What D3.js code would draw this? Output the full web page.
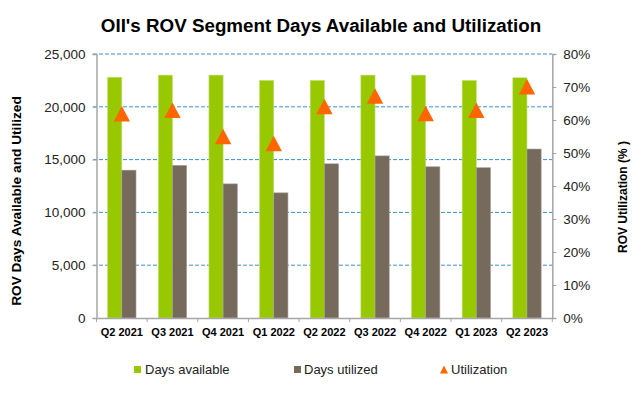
<!DOCTYPE html>
<html><head><meta charset="utf-8">
<script src="https://cdn.jsdelivr.net/npm/d3@7/dist/d3.min.js"></script>
<style>body{margin:0;background:#fff;}svg{display:block;font-family:"Liberation Sans",Arial,sans-serif;}</style>
</head><body><svg id="c" width="640" height="399"></svg>
<script>
const categories = ["Q2 2021","Q3 2021","Q4 2021","Q1 2022","Q2 2022","Q3 2022","Q4 2022","Q1 2023","Q2 2023"];
const daysAvailable = [22800, 23000, 23000, 22500, 22500, 23000, 23000, 22500, 22750];
const daysUtilized = [14000, 14450, 12700, 11850, 14600, 15350, 14320, 14230, 16000];
const utilization = [0.618, 0.629, 0.549, 0.528, 0.640, 0.672, 0.619, 0.629, 0.700];
const leftTicks = [0, 5000, 10000, 15000, 20000, 25000];
const rightTicks = [0, 0.1, 0.2, 0.3, 0.4, 0.5, 0.6, 0.7, 0.8];
const seriesNames = ["Days available", "Days utilized", "Utilization"];

const svg = d3.select("#c");
const L = 96.5, R = 552.3, T = 54, B = 318;
const x = d3.scaleBand().domain(categories).range([L, R]).paddingInner(0.44).paddingOuter(0.22);
const x1 = d3.scaleBand().domain([0,1]).range([0, x.bandwidth()]);
const yL = d3.scaleLinear().domain([0, 25000]).range([B, T]);
const yR = d3.scaleLinear().domain([0, 0.8]).range([B, T]);
const colors = ["#97c800", "#756a5b", "#ff6600"];

// title
svg.append("text").attr("x", 321).attr("y", 32).attr("text-anchor", "middle")
  .attr("font-size", "18.8px").attr("font-weight", "bold").attr("fill", "#000")
  .text("OII's ROV Segment Days Available and Utilization");

// gridlines
svg.append("g").selectAll("line").data(leftTicks.filter(d => d > 0)).join("line")
  .attr("x1", 93).attr("x2", R).attr("y1", d => yL(d)).attr("y2", d => yL(d))
  .attr("stroke", "#3d8fd6").attr("stroke-width", 1).attr("stroke-dasharray", "4,2");

// bars
const g = svg.append("g");
categories.forEach((c, i) => {
  g.append("rect").attr("x", x(c) + x1(0)).attr("width", x1.bandwidth())
    .attr("y", yL(daysAvailable[i])).attr("height", B - yL(daysAvailable[i]))
    .attr("fill", colors[0]).attr("stroke", "#c4e07a").attr("stroke-width", 0.6);
  g.append("rect").attr("x", x(c) + x1(1)).attr("width", x1.bandwidth())
    .attr("y", yL(daysUtilized[i])).attr("height", B - yL(daysUtilized[i]))
    .attr("fill", colors[1]).attr("stroke", "#a79e93").attr("stroke-width", 0.6);
});

// triangles
svg.append("g").selectAll("path").data(utilization).join("path")
  .attr("transform", (d, i) => `translate(${x(categories[i]) + x.bandwidth()/2},${yR(d)})`)
  .attr("d", "M0,-8L8.2,7.5L-8.2,7.5Z").attr("fill", colors[2]);

// axes
const axisCol = "#a6a6a6";
const leftAxis = svg.append("g").attr("transform", `translate(${L},0)`)
  .call(d3.axisLeft(yL).tickValues(leftTicks).tickSize(4).tickPadding(7).tickFormat(d3.format(",")));
const rightAxis = svg.append("g").attr("transform", `translate(${R},0)`)
  .call(d3.axisRight(yR).tickValues(rightTicks).tickSize(4).tickPadding(7).tickFormat(d3.format(".0%")));
const bottomAxis = svg.append("g").attr("transform", `translate(0,${B})`)
  .call(d3.axisBottom(x).tickSize(0).tickPadding(10));
[leftAxis, rightAxis, bottomAxis].forEach(a => {
  a.select(".domain").attr("stroke", axisCol).attr("stroke-width", 1.5);
  a.selectAll(".tick line").attr("stroke", axisCol);
});
leftAxis.selectAll("text").attr("font-size", "13.5px").attr("fill", "#222").attr("font-family", "Liberation Sans, Arial");
rightAxis.selectAll("text").attr("font-size", "13.5px").attr("fill", "#222").attr("font-family", "Liberation Sans, Arial");
bottomAxis.selectAll("text").attr("font-size", "11px").attr("font-weight", "bold").attr("fill", "#000").attr("font-family", "Liberation Sans, Arial");
// category boundary ticks
const bounds = categories.map(c => x(c) - x.step()*x.paddingInner()/2).concat([R]);
bounds[0] = L;
svg.append("g").selectAll("line").data(bounds).join("line")
  .attr("x1", d => d).attr("x2", d => d).attr("y1", B).attr("y2", B + 4)
  .attr("stroke", axisCol).attr("stroke-width", 1);

// axis titles
svg.append("text").attr("transform", `translate(21,201) rotate(-90)`).attr("text-anchor", "middle")
  .attr("font-size", "13.7px").attr("font-weight", "bold").text("ROV Days Available and Utilized");
svg.append("text").attr("transform", `translate(627,197) rotate(-90)`).attr("text-anchor", "middle")
  .attr("font-size", "12px").attr("font-weight", "bold").text("ROV Utilization (% )");

// legend
const leg = svg.append("g").attr("font-size", "13px").attr("fill", "#222");
const legItems = [{sx: 134, tx: 145}, {sx: 294, tx: 304}, {sx: 440, tx: 451}];
legItems.forEach((it, i) => {
  if (i < 2) {
    leg.append("rect").attr("x", it.sx).attr("y", 366).attr("width", 7).attr("height", 7).attr("fill", colors[i]);
  } else {
    leg.append("path").attr("transform", `translate(${it.sx + 4},369.5)`).attr("d", "M0,-4L4,4L-4,4Z").attr("fill", colors[2]);
  }
  leg.append("text").attr("x", it.tx).attr("y", 374).attr("fill", "#222").text(seriesNames[i]);
});
</script></body></html>
